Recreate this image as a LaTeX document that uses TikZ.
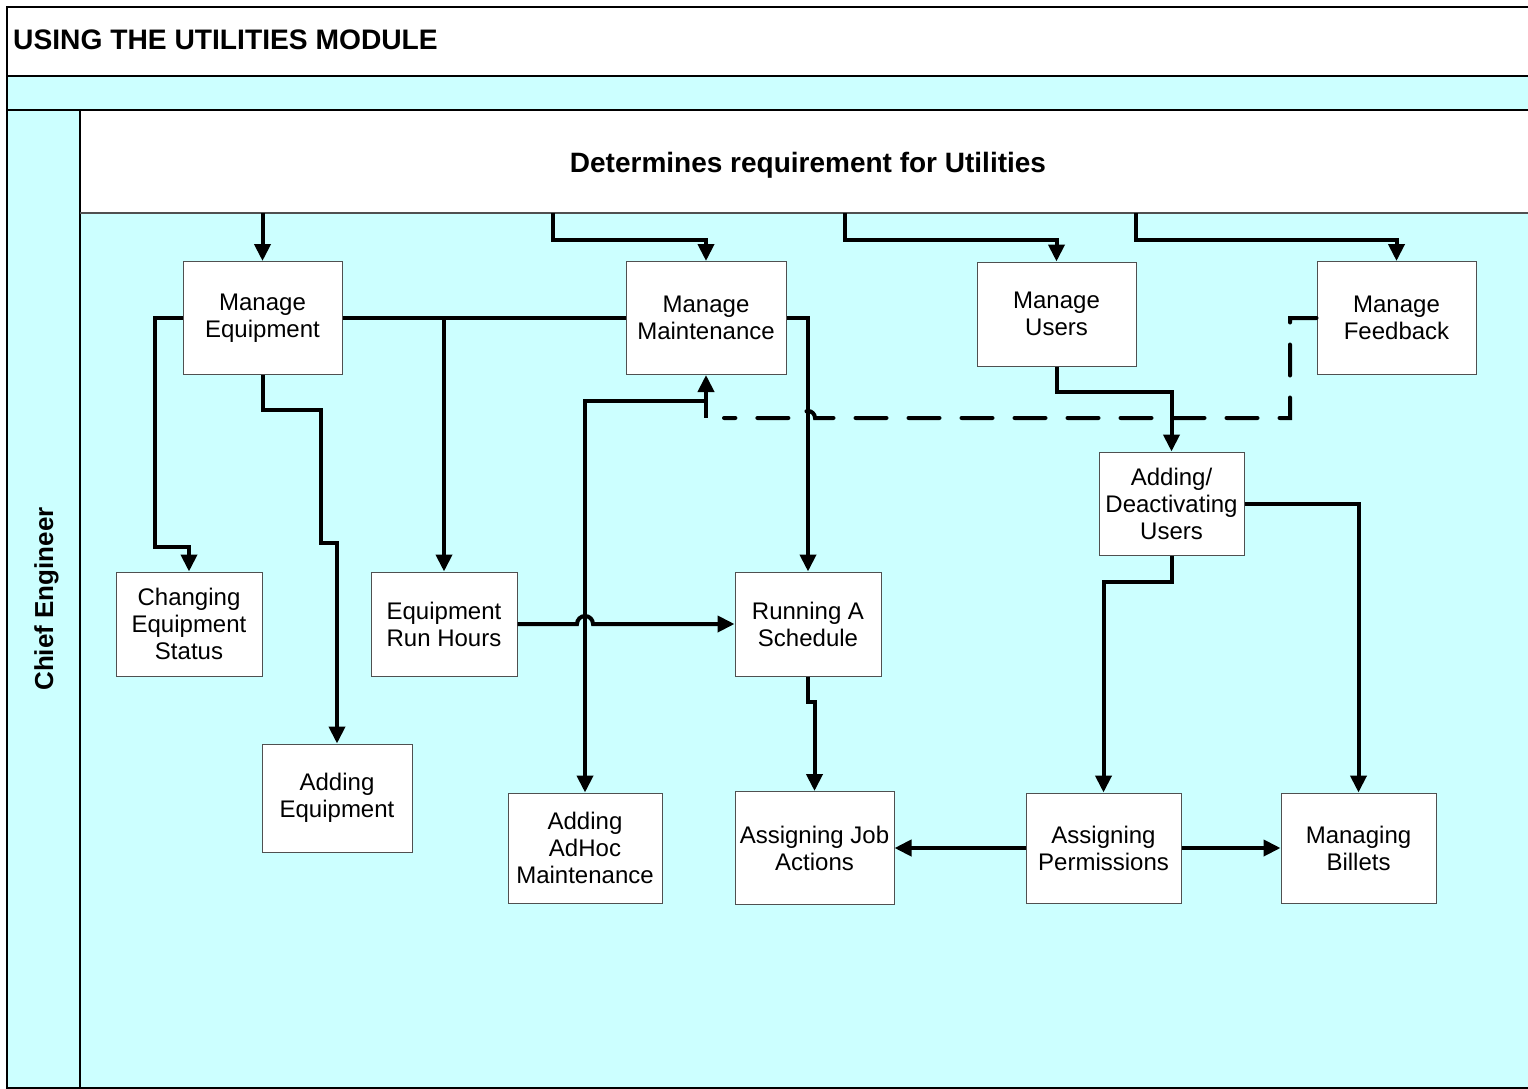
\documentclass[tikz,border=0pt]{standalone}
\usepackage{fontspec}
\setmainfont{Liberation Sans}
\usetikzlibrary{arrows.meta,calc}
\definecolor{lanecyan}{HTML}{CCFFFF}
\definecolor{boxgray}{HTML}{505050}
\tikzset{>={Triangle[length=17pt,width=16pt]}}
\tikzset{
  lane/.style={line width=1.6pt,black},
  procbox/.style={draw=boxgray,line width=1pt,fill=white,align=center,inner sep=0pt,
    font=\fontsize{24}{27}\selectfont},
  flow/.style={line width=4pt},
  feed/.style={line width=4pt,dash pattern=on 31pt off 22pt,line cap=round}
}

\begin{document}
\begin{tikzpicture}[x=1pt,y=-1pt]
  \useasboundingbox (0,0) rectangle (1528,1089);

  % Lanes
  \fill[white] (7,7) rectangle (1540,76);
  \fill[lanecyan] (7,76) rectangle (1540,1088);
  \fill[white] (80,110) rectangle (1540,213);
  \draw[lane] (1540,7) -- (7,7) -- (7,1088) -- (1540,1088);
  \draw[lane] (7,76) -- (1540,76);
  \draw[lane,line width=2.2pt] (7,110) -- (1540,110);
  \draw[lane] (80,110) -- (80,1088);
  \draw[line width=1.6pt,boxgray] (80,213) -- (1540,213);
  \coordinate (req) at (808,213);
  \coordinate (t2) at (553,213);
  \coordinate (t3) at (845,213);
  \coordinate (t4) at (1136,213);

  % Boxes
  \node[procbox,minimum width=159,minimum height=113] (ME) at (262.5,318) {Manage\\Equipment};
  \node[procbox,minimum width=160,minimum height=113] (MM) at (706,318) {Manage\\Maintenance};
  \node[procbox,minimum width=159,minimum height=104] (MU) at (1056.5,314) {Manage\\Users};
  \node[procbox,minimum width=159,minimum height=113] (MF) at (1396.5,318) {Manage\\Feedback};
  \node[procbox,minimum width=146,minimum height=104] (CES) at (189,624) {Changing\\Equipment\\Status};
  \node[procbox,minimum width=146,minimum height=104] (ERH) at (444,624) {Equipment\\Run Hours};
  \node[procbox,minimum width=146,minimum height=104] (RAS) at (808,624) {Running A\\Schedule};
  \node[procbox,minimum width=145,minimum height=103] (ADU) at (1171.5,503.5) {Adding/\\Deactivating\\Users};
  \node[procbox,minimum width=150,minimum height=108] (AE) at (337,798) {Adding\\Equipment};
  \node[procbox,minimum width=154,minimum height=110] (AHM) at (585,848) {Adding\\AdHoc\\Maintenance};
  \node[procbox,minimum width=159,minimum height=113] (AJA) at (814.5,848) {Assigning Job\\Actions};
  \node[procbox,minimum width=155,minimum height=110] (AP) at (1103.5,848) {Assigning\\Permissions};
  \node[procbox,minimum width=155,minimum height=110] (MB) at (1358.5,848) {Managing\\Billets};

  % Lines
  \draw[flow,->] (req -| ME.north) -- (ME.north);
  \draw[flow,->] (t2) -- ++(0,27) -| (MM.north);
  \draw[flow,->] (t3) -- ++(0,27) -| (MU.north);
  \draw[flow,->] (t4) -- ++(0,27) -| (MF.north);
  \draw[flow,->] (ME.west) -| (155,547) -| (CES.north);
  \draw[flow,->] (ME.south) |- (321,410) |- (337,543) -- (AE.north);
  \draw[flow] (ME.east) -- (MM.west);
  \draw[flow,->] (ME.east) -| (ERH.north);
  \draw[flow,->] (MM.east) -| (RAS.north);
  \draw[flow,->] (ERH.east) -- (577,624) arc[start angle=180,end angle=360,radius=8] -- (RAS.west);
  \draw[flow,<->] (MM.south) -- (706,401) -| (AHM.north);
  \draw[flow] (706,401) -- (706,418);
  \draw[feed] (MF.west) -- (1290,318) -- (1290,418) -- (815,418)
    arc[start angle=0,end angle=-180,radius=7] -- (724,418);
  \draw[flow,->] (MU.south) -- ++(0,25) -| (ADU.north);
  \draw[flow,->] (ADU.east) -| (MB.north);
  \draw[flow,->] (ADU.south) -- ++(0,26) -| (AP.north);
  \draw[flow,->] (RAS.south) -- ++(0,25) -| (AJA.north);
  \draw[flow,->] (AP.west) -- (AJA.east);
  \draw[flow,->] (AP.east) -- (MB.west);

  % Labels
  \node[anchor=base west,inner sep=0pt,font=\fontsize{28.2}{30}\selectfont\bfseries] (title) at (13,50) {USING THE UTILITIES MODULE};
  \node[anchor=base,inner sep=0pt,font=\fontsize{28}{30}\selectfont\bfseries] (reqtext) at (808,172) {Determines requirement for Utilities};
  \node[anchor=base,rotate=90,inner sep=0pt,font=\fontsize{26}{30}\selectfont\bfseries] (lanename) at (53,599) {Chief Engineer};
\end{tikzpicture}
\end{document}
